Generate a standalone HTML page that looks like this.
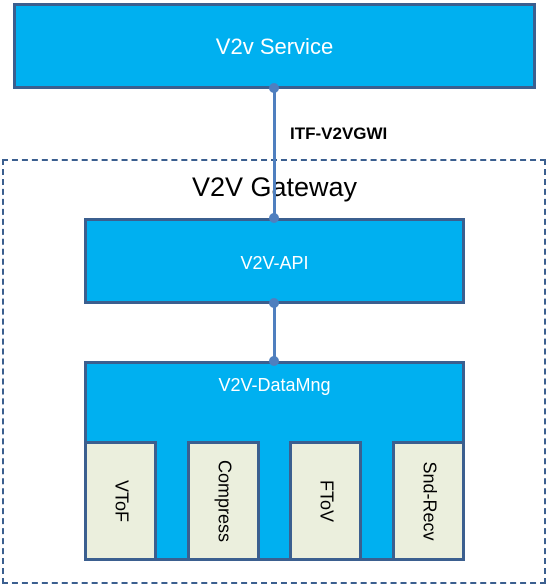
<!DOCTYPE html>
<html><head><style>
html,body{margin:0;padding:0;background:#fff;}
body{width:549px;height:587px;position:relative;overflow:hidden;font-family:"Liberation Sans",sans-serif;}
.b{position:absolute;background:#00b0f0;border:3px solid #3b5f8f;box-sizing:border-box;color:#fff;text-align:center;}
.s{position:absolute;background:#ebefdd;border:3px solid #3b5f8f;box-sizing:border-box;}
.s span{position:absolute;left:50%;top:50%;transform:translate(-50%,-50%) rotate(90deg);white-space:nowrap;font-size:18px;color:#000;}
.dot{position:absolute;width:10px;height:10px;border-radius:50%;background:#4f7fbf;}
.line{position:absolute;width:3px;background:#4f7fbf;}
</style></head><body>
<div style="position:absolute;left:2px;top:159px;width:544px;height:425px;border:2px dashed #3b5f8f;box-sizing:border-box;"></div>
<div class="b" style="left:13px;top:3px;width:523px;height:86px;font-size:22px;line-height:82px;">V2v Service</div>
<div style="position:absolute;left:0;width:549px;top:170px;text-align:center;font-size:27px;line-height:34px;">V2V Gateway</div>
<div style="position:absolute;left:290px;top:123px;font-size:17px;font-weight:bold;line-height:22px;">ITF-V2VGWI</div>
<div class="b" style="left:84px;top:218px;width:381px;height:86px;font-size:18px;line-height:84px;">V2V-API</div>
<div class="b" style="left:84px;top:361px;width:381px;height:200px;font-size:18px;line-height:42px;">V2V-DataMng</div>
<div class="s" style="left:84px;top:441px;width:73px;height:120px;"><span>VToF</span></div>
<div class="s" style="left:187px;top:441px;width:73px;height:120px;"><span>Compress</span></div>
<div class="s" style="left:289px;top:441px;width:73px;height:120px;"><span>FToV</span></div>
<div class="s" style="left:392px;top:441px;width:73px;height:120px;"><span>Snd-Recv</span></div>
<div class="line" style="left:273px;top:88px;height:130px;"></div>
<div class="line" style="left:273px;top:303px;height:58px;"></div>
<div class="dot" style="left:269px;top:83px;"></div>
<div class="dot" style="left:269px;top:213px;"></div>
<div class="dot" style="left:269px;top:298px;"></div>
<div class="dot" style="left:269px;top:356px;"></div>
</body></html>
